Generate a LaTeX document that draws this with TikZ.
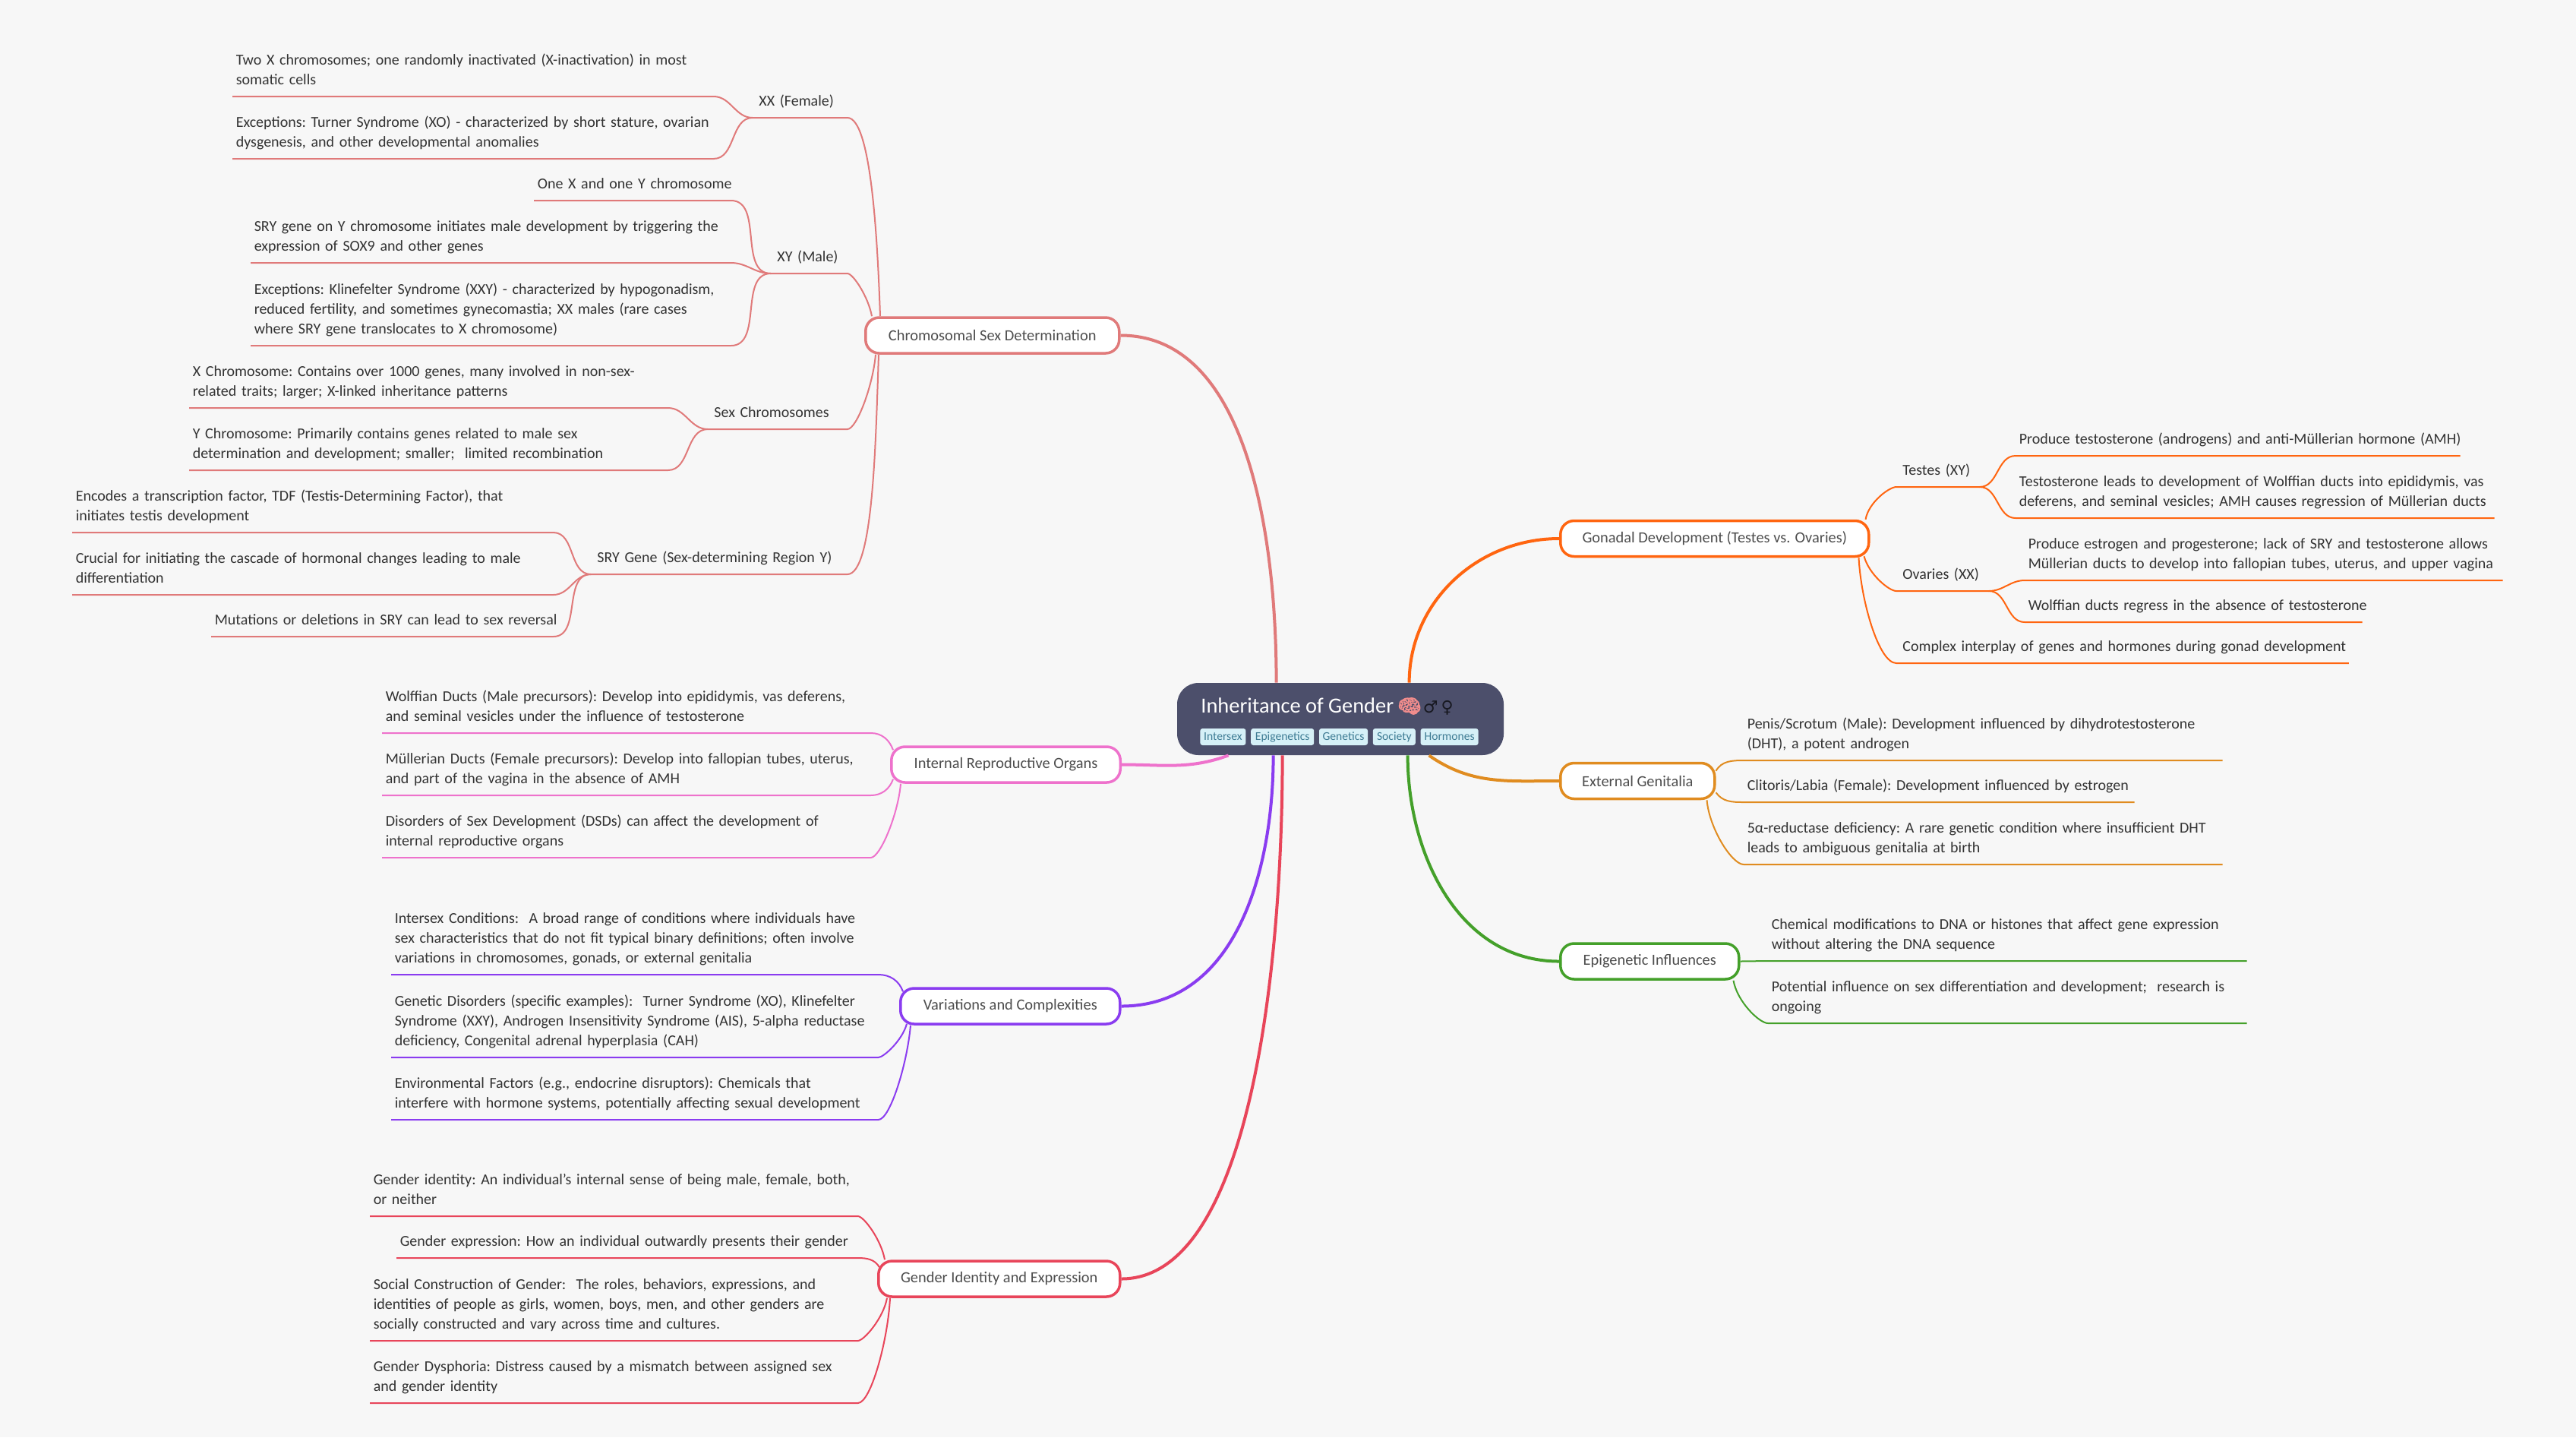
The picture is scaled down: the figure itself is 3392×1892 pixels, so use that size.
\documentclass[tikz,border=0pt]{standalone}
\usepackage{fontspec}
\setmainfont{Carlito}
\newfontfamily\emojifont[RawFeature={embolden=4}]{Noto Emoji}
\newfontfamily\symbfont{DejaVu Sans}
\usetikzlibrary{positioning}

\definecolor{pagebg}{HTML}{F7F7F7}
\definecolor{rootcol}{HTML}{4C4F6B}
\definecolor{tagfill}{HTML}{D6F0F7}
\definecolor{tagtext}{HTML}{3F7C94}
\definecolor{leaftext}{HTML}{333333}
\definecolor{boxtext}{HTML}{4D4D4D}
\definecolor{brainpink}{HTML}{F08C8C}
\definecolor{colChromo}{HTML}{E07A7A}
\definecolor{colGonad}{HTML}{FF6510}
\definecolor{colExt}{HTML}{E08C20}
\definecolor{colEpi}{HTML}{44A02A}
\definecolor{colInt}{HTML}{EE72CC}
\definecolor{colVar}{HTML}{8A3CF0}
\definecolor{colGen}{HTML}{E8455A}

\newcommand{\leafsize}{\fontsize{10}{13}\selectfont\frenchspacing}

\tikzset{
  leaf/.style={anchor=south west, align=left, inner xsep=2.2pt, inner ysep=3.9pt,
    font=\leafsize, text=leaftext, execute at end node=\strut},
  mid/.style={leaf, inner xsep=4pt},
  branch/.style={anchor=west, draw=#1, fill=white, line width=1.75pt, rounded corners=9pt,
    minimum height=23.5pt, inner sep=0pt, font=\fontsize{10.2}{13}\selectfont, text=boxtext},
  tag/.style={fill=tagfill, text=tagtext, rounded corners=1.5pt, inner sep=0pt, text height=6pt, text depth=1.8pt,
    minimum height=11pt, font=\fontsize{7.8}{10}\selectfont},
  main/.style={line width=2pt},
  link/.style={line width=1pt},
  sleft/.style={out=180, in=0},
  sright/.style={out=0, in=180},
  longleft/.style={in=0, in looseness=.3},
  longright/.style={in=180, in looseness=.4}
}

\begin{document}
\begin{tikzpicture}[x=0.5pt, y=-0.5pt]
  \fill[pagebg] (0,0) rectangle (3392,1892);
  \useasboundingbox (0,0) rectangle (3392,1892);

  % centre
  \node[fill=rootcol, rounded corners=14pt, minimum width=215pt, minimum height=47.5pt, inner sep=0pt] (root) at (1765,946.5) {};
  \node[anchor=base west, inner sep=0pt, text=white, font=\fontsize{14.2}{16}\selectfont] (title) at (1581,938)
    {Inheritance of Gender\hspace{2.5pt}{\emojifont\fontsize{12.5}{14}\selectfont\color{brainpink}🧠}\hspace{1pt}{\symbfont\fontsize{11}{14}\selectfont\color{black!70!rootcol}♂\hspace{2pt}♀}};
  \node[tag, anchor=west, minimum width=30pt] (tagi) at (1580,970) {Intersex};
  \node[tag, right=3pt of tagi, minimum width=41.5pt] (tage) {Epigenetics};
  \node[tag, right=3pt of tage, minimum width=32pt] (tagg) {Genetics};
  \node[tag, right=3pt of tagg, minimum width=28pt] (tags) {Society};
  \node[tag, right=3pt of tags, minimum width=38pt] (tagh) {Hormones};

  % boxes
  \node[branch=colChromo, minimum width=167pt] (chromo) at (1138,441.5) {Chromosomal Sex Determination};
  \node[branch=colInt, minimum width=150.75pt] (internal) at (1172,1006.5) {Internal Reproductive Organs};
  \node[branch=colVar, minimum width=144.5pt] (variation) at (1184,1324.5) {Variations and Complexities};
  \node[branch=colGen, minimum width=159pt] (gender) at (1155,1683.5) {Gender Identity and Expression};
  \node[branch=colGonad, minimum width=203pt] (gonad) at (2053,709) {Gonadal Development (Testes vs. Ovaries)};
  \node[branch=colExt, minimum width=101.5pt] (external) at (2053,1028) {External Genitalia};
  \node[branch=colEpi, minimum width=117.5pt] (epi) at (2053,1265.5) {Epigenetic Influences};

  % chromosomal
  \node[mid, text width=54pt] (xx) at (991,155) {XX (Female)};
  \node[mid, text width=42pt] (xy) at (1015,360) {XY (Male)};
  \node[mid, text width=83.5pt] (sexc) at (932,565) {Sex Chromosomes};
  \node[mid, text width=160.5pt] (sry) at (778,756) {SRY Gene (Sex-determining Region Y)};
  \node[leaf, text width=312pt] (xxa) at (306,127) {Two X chromosomes; one randomly inactivated (X-inactivation) in most\\somatic cells};
  \node[leaf, text width=312pt] (xxb) at (306,209) {Exceptions: Turner Syndrome (XO) - characterized by short stature, ovarian\\dysgenesis, and other developmental anomalies};
  \node[leaf, text width=125pt] (xya) at (703,264) {\mbox{One X and one Y chromosome}};
  \node[leaf, text width=311.5pt] (xyb) at (330,346) {SRY gene on Y chromosome initiates male development by triggering the\\expression of SOX9 and other genes};
  \node[leaf, text width=311.5pt] (xyc) at (330,455) {Exceptions: Klinefelter Syndrome (XXY) - characterized by hypogonadism,\\reduced fertility, and sometimes gynecomastia; XX males (rare cases\\where SRY gene translocates to X chromosome)};
  \node[leaf, text width=310.5pt] (sexa) at (249,537) {X Chromosome: Contains over 1000 genes, many involved in non-sex-\\related traits; larger; X-linked inheritance patterns};
  \node[leaf, text width=310.5pt] (sexb) at (249,619) {Y Chromosome: Primarily contains genes related to male sex\\determination and development; smaller;\ \ limited recombination};
  \node[leaf, text width=312pt] (srya) at (95,701) {Encodes a transcription factor, TDF (Testis-Determining Factor), that\\initiates testis development};
  \node[leaf, text width=312pt] (sryb) at (95,783) {Crucial for initiating the cascade of hormonal changes leading to male\\differentiation};
  \node[leaf, text width=220.5pt] (sryc) at (278,838) {\mbox{Mutations or deletions in SRY can lead to sex reversal}};

  % internal
  \node[leaf, text width=317pt] (inta) at (503,965) {Wolffian Ducts (Male precursors): Develop into epididymis, vas deferens,\\and seminal vesicles under the influence of testosterone};
  \node[leaf, text width=317pt] (intb) at (503,1047) {Müllerian Ducts (Female precursors): Develop into fallopian tubes, uterus,\\and part of the vagina in the absence of AMH};
  \node[leaf, text width=317pt] (intc) at (503,1129) {Disorders of Sex Development (DSDs) can affect the development of\\internal reproductive organs};

  % variations
  \node[leaf, text width=316pt] (vara) at (515,1283) {Intersex Conditions:\ \ A broad range of conditions where individuals have\\sex characteristics that do not fit typical binary definitions; often involve\\variations in chromosomes, gonads, or external genitalia};
  \node[leaf, text width=316pt] (varb) at (515,1392) {Genetic Disorders (specific examples):\ \ Turner Syndrome (XO), Klinefelter\\Syndrome (XXY), Androgen Insensitivity Syndrome (AIS), 5-alpha reductase\\deficiency, Congenital adrenal hyperplasia (CAH)};
  \node[leaf, text width=316pt] (varc) at (515,1474) {Environmental Factors (e.g., endocrine disruptors): Chemicals that\\interfere with hormone systems, potentially affecting sexual development};

  % gender
  \node[leaf, text width=316.5pt] (gena) at (487,1601) {Gender identity: An individual's internal sense of being male, female, both,\\or neither};
  \node[leaf, text width=299pt] (genb) at (522,1656) {Gender expression: How an individual outwardly presents their gender};
  \node[leaf, text width=316.5pt] (genc) at (487,1765) {Social Construction of Gender:\ \ The roles, behaviors, expressions, and\\identities of people as girls, women, boys, men, and other genders are\\socially constructed and vary across time and cultures.};
  \node[leaf, text width=316.5pt] (gend) at (487,1847) {Gender Dysphoria: Distress caused by a mismatch between assigned sex\\and gender identity};

  % gonadal
  \node[mid, text width=46.5pt] (testes) at (2497,641) {Testes (XY)};
  \node[mid, text width=52.5pt] (ovary) at (2497,778) {Ovaries (XX)};
  \node[mid, text width=289.5pt] (interplay) at (2497,873) {\mbox{Complex interplay of genes and hormones during gonad development}};
  \node[leaf, text width=288pt] (tesa) at (2654,600) {\mbox{Produce testosterone (androgens) and anti-Müllerian hormone (AMH)}};
  \node[leaf, text width=310.5pt] (tesb) at (2654,682) {Testosterone leads to development of Wolffian ducts into epididymis, vas\\deferens, and seminal vesicles; AMH causes regression of Müllerian ducts};
  \node[leaf, text width=310pt] (ovaa) at (2666,764) {Produce estrogen and progesterone; lack of SRY and testosterone allows\\Müllerian ducts to develop into fallopian tubes, uterus, and upper vagina};
  \node[leaf, text width=217.5pt] (ovab) at (2666,819) {\mbox{Wolffian ducts regress in the absence of testosterone}};

  % external
  \node[leaf, text width=310.5pt] (exta) at (2296,1001) {Penis/Scrotum (Male): Development influenced by dihydrotestosterone\\(DHT), a potent androgen};
  \node[leaf, text width=252.5pt] (extb) at (2296,1056) {Clitoris/Labia (Female): Development influenced by estrogen};
  \node[leaf, text width=310.5pt] (extc) at (2296,1138) {5α-reductase deficiency: A rare genetic condition where insufficient DHT\\leads to ambiguous genitalia at birth};

  % epigenetic
  \node[leaf, text width=310.5pt] (epia) at (2328,1265) {Chemical modifications to DNA or histones that affect gene expression\\without altering the DNA sequence};
  \node[leaf, text width=310.5pt] (epib) at (2328,1347) {Potential influence on sex differentiation and development;\ \ research is\\ongoing};

  % from the centre
  \draw[main, colChromo] (chromo.east) to[out=0, in=90, out looseness=.85] ([xshift=65.5pt]root.north west);
  \draw[main, colInt] (internal.east) to[out=0, in=200] ([xshift=34pt]root.south west);
  \draw[main, colVar] (variation.east) to[out=0, in=-90] ([xshift=63.5pt]root.south west);
  \draw[main, colGen] (gender.east) to[out=0, in=-90, out looseness=.6] ([xshift=69.5pt]root.south west);
  \draw[main, colGonad] (gonad.west) to[out=180, in=90] ([xshift=153pt]root.north west);
  \draw[main, colExt] (external.west) to[out=180, in=-35] ([xshift=166pt]root.south west);
  \draw[main, colEpi] (epi.west) to[out=180, in=-90] ([xshift=152pt]root.south west);

  % chromosomal links
  \draw[link, colChromo] ([xshift=10.5pt]chromo.north west) to[out=92, longleft] (xx.south east) -- (xx.south west);
  \draw[link, colChromo] ([xshift=5pt]chromo.north west) to[out=100, longleft] (xy.south east) -- (xy.south west);
  \draw[link, colChromo] ([xshift=7.5pt]chromo.south west) to[out=-95, longleft] (sexc.south east) -- (sexc.south west);
  \draw[link, colChromo] ([xshift=9.5pt]chromo.south west) to[out=-92, longleft] (sry.south east) -- (sry.south west);
  \draw[link, colChromo] (xx.south west) to[sleft] (xxa.south east) -- (xxa.south west);
  \draw[link, colChromo] (xx.south west) to[sleft] (xxb.south east) -- (xxb.south west);
  \draw[link, colChromo] (xy.south west) to[sleft] (xya.south east) -- (xya.south west);
  \draw[link, colChromo] (xy.south west) to[sleft] (xyb.south east) -- (xyb.south west);
  \draw[link, colChromo] (xy.south west) to[sleft] (xyc.south east) -- (xyc.south west);
  \draw[link, colChromo] (sexc.south west) to[sleft] (sexa.south east) -- (sexa.south west);
  \draw[link, colChromo] (sexc.south west) to[sleft] (sexb.south east) -- (sexb.south west);
  \draw[link, colChromo] (sry.south west) to[sleft] (srya.south east) -- (srya.south west);
  \draw[link, colChromo] (sry.south west) to[sleft] (sryb.south east) -- (sryb.south west);
  \draw[link, colChromo] (sry.south west) to[sleft] (sryc.south east) -- (sryc.south west);

  % internal links
  \draw[link, colInt] ([xshift=2pt,yshift=-3pt]internal.north west) to[out=110, in=0] (inta.south east) -- (inta.south west);
  \draw[link, colInt] ([xshift=2pt,yshift=3pt]internal.south west) to[out=-110, in=0] (intb.south east) -- (intb.south west);
  \draw[link, colInt] ([xshift=7pt]internal.south west) to[out=-95, longleft] (intc.south east) -- (intc.south west);

  % variation links
  \draw[link, colVar] ([xshift=2.5pt,yshift=-3pt]variation.north west) to[out=110, in=0] (vara.south east) -- (vara.south west);
  \draw[link, colVar] ([xshift=5pt,yshift=1pt]variation.south west) to[out=-105, longleft] (varb.south east) -- (varb.south west);
  \draw[link, colVar] ([xshift=7.5pt]variation.south west) to[out=-95, longleft] (varc.south east) -- (varc.south west);

  % gender links
  \draw[link, colGen] ([xshift=5pt]gender.north west) to[out=100, longleft] (gena.south east) -- (gena.south west);
  \draw[link, colGen] ([xshift=1.5pt,yshift=-5pt]gender.north west) to[out=120, in=0] (genb.south east) -- (genb.south west);
  \draw[link, colGen] ([xshift=6.5pt]gender.south west) to[out=-100, longleft] (genc.south east) -- (genc.south west);
  \draw[link, colGen] ([xshift=8.5pt]gender.south west) to[out=-93, longleft] (gend.south east) -- (gend.south west);

  % gonadal links
  \draw[link, colGonad] ([xshift=-3pt]gonad.north east) to[out=80, longright] (testes.south west) -- (testes.south east);
  \draw[link, colGonad] ([xshift=-4pt,yshift=1pt]gonad.south east) to[out=-75, longright] (ovary.south west) -- (ovary.south east);
  \draw[link, colGonad] ([xshift=-7.5pt]gonad.south east) to[out=-87, longright] (interplay.south west) -- (interplay.south east);
  \draw[link, colGonad] (testes.south east) to[sright] (tesa.south west) -- (tesa.south east);
  \draw[link, colGonad] (testes.south east) to[sright] (tesb.south west) -- (tesb.south east);
  \draw[link, colGonad] (ovary.south east) to[sright] (ovaa.south west) -- (ovaa.south east);
  \draw[link, colGonad] (ovary.south east) to[sright] (ovab.south west) -- (ovab.south east);

  % external links
  \draw[link, colExt] ([yshift=-6pt]external.north east) to[out=60, in=180] (exta.south west) -- (exta.south east);
  \draw[link, colExt] ([yshift=5pt]external.south east) to[out=-55, in=180] (extb.south west) -- (extb.south east);
  \draw[link, colExt] ([xshift=-6pt]external.south east) to[out=-85, longright] (extc.south west) -- (extc.south east);

  % epigenetic links
  \draw[link, colEpi] (epi.east) -- (epia.south west) -- (epia.south east);
  \draw[link, colEpi] ([xshift=-4.5pt]epi.south east) to[out=-80, longright] (epib.south west) -- (epib.south east);
\end{tikzpicture}
\end{document}
